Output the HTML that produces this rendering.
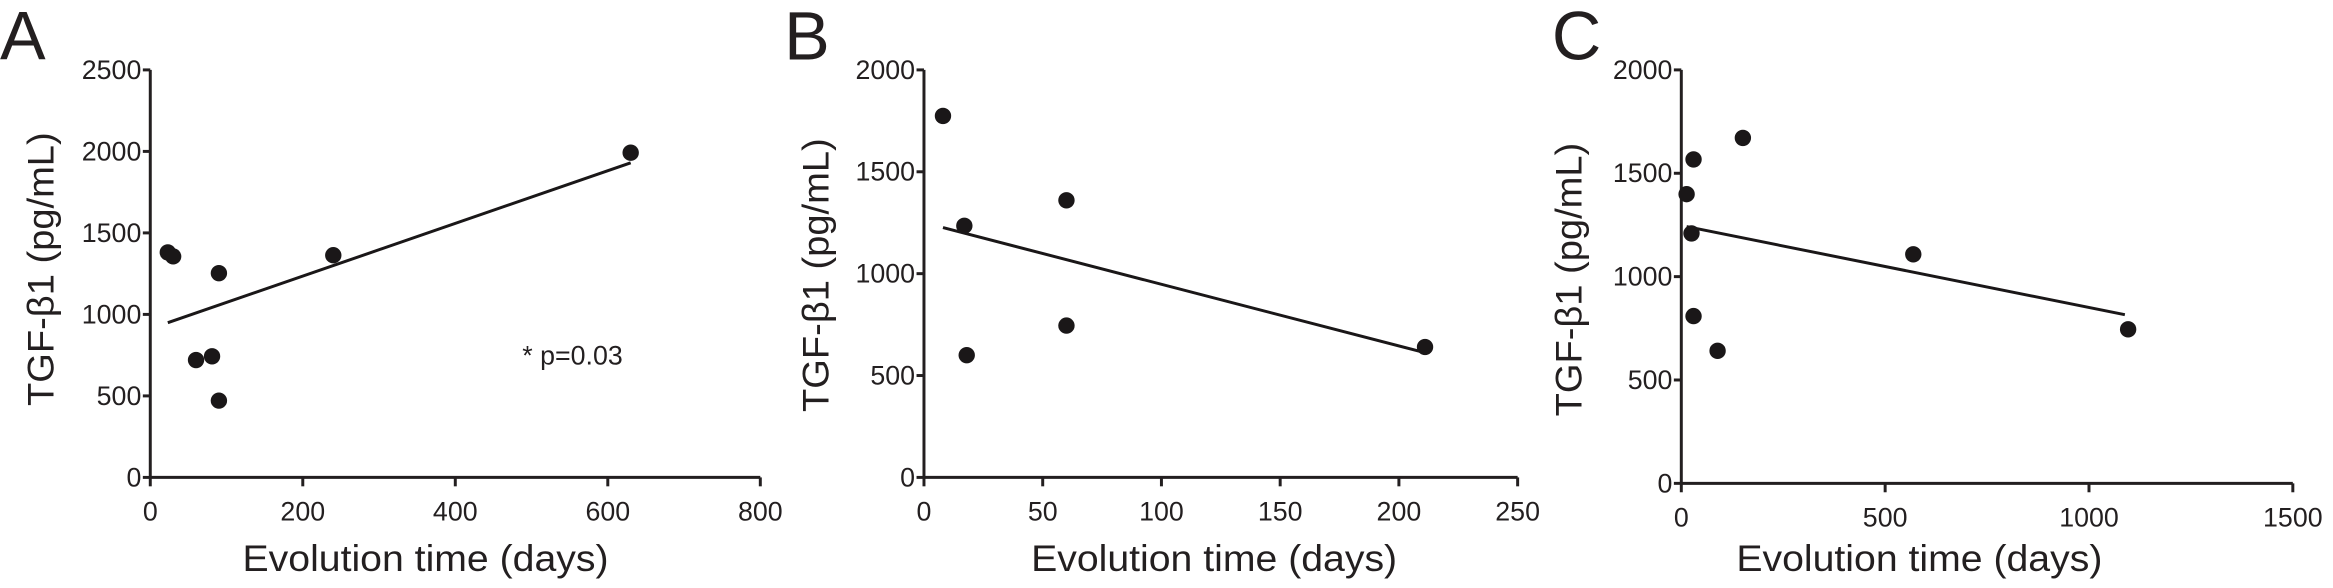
<!DOCTYPE html>
<html><head><meta charset="utf-8"><style>
body{margin:0;background:#fff;width:2333px;height:583px;overflow:hidden}
svg{font-family:"Liberation Sans",sans-serif}
</style></head><body>
<svg id="fig" width="2333" height="583" viewBox="0 0 1568 392" preserveAspectRatio="none" xmlns="http://www.w3.org/2000/svg"></svg>
<script>
// Panel A data
const aDays = [23, 30, 60, 81, 90, 90, 240, 630];
const aVals = [1380, 1356, 720, 743, 1253, 471, 1363, 1992];
const aFit = [[23, 949], [630, 1930]];
const aXTicks = [0, 200, 400, 600, 800];
const aYTicks = [0, 500, 1000, 1500, 2000, 2500];
// Panel B data
const bDays = [8, 17, 18, 60, 60, 211];
const bVals = [1774, 1235, 600, 1360, 745, 640];
const bFit = [[8, 1226], [211, 612]];
const bXTicks = [0, 50, 100, 150, 200, 250];
const bYTicks = [0, 500, 1000, 1500, 2000];
// Panel C data
const cDays = [13, 30, 151, 25, 30, 89, 569, 1096];
const cVals = [1399, 1567, 1671, 1209, 809, 641, 1108, 745];
const cFit = [[13, 1242], [1088, 816]];
const cXTicks = [0, 500, 1000, 1500];
const cYTicks = [0, 500, 1000, 1500, 2000];

const NS = "http://www.w3.org/2000/svg";
const svg = document.getElementById('fig');
function mk(tag, attrs, parent, text) {
  const e = document.createElementNS(NS, tag);
  for (const k in attrs) e.setAttribute(k, attrs[k]);
  if (text !== undefined) e.textContent = text;
  (parent || svg).appendChild(e);
  return e;
}
function panel(id, letter, lx, titleX, x0, x1, y0, y1, xTicks, yTicks, days, vals, fit, titleCx, titleCy) {
  const g = mk('g', {});
  
  
  const xmax = xTicks[xTicks.length - 1], ymax = yTicks[yTicks.length - 1];
  const X = v => x0 + (x1 - x0) * v / xmax;
  const Y = v => y0 - (y0 - y1) * v / ymax;
  const L = mk('text', {x: lx, y: 40, 'font-size': 46, fill: '#231f20'}, g, letter);
  
  
  const ya = mk('line', {x1: x0, y1: y0, x2: x0, y2: y1, stroke: '#231f20', 'stroke-width': 2}, g);
  
  
  const xa = mk('line', {x1: x0, y1: y0, x2: x1, y2: y0, stroke: '#231f20', 'stroke-width': 2}, g);
  
  
  yTicks.forEach(t => {
    mk('line', {x1: x0 - 5, y1: Y(t), x2: x0, y2: Y(t), stroke: '#231f20', 'stroke-width': 2}, g);
    const tl = mk('text', {x: x0 - 6, y: Y(t) + 6, 'font-size': 18, 'text-anchor': 'end', fill: '#231f20'}, g, t);
    
    
  });
  xTicks.forEach(t => {
    mk('line', {x1: X(t), y1: y0, x2: X(t), y2: y0 + 6, stroke: '#231f20', 'stroke-width': 2}, g);
    const tl = mk('text', {x: X(t), y: y0 + 29, 'font-size': 18, 'text-anchor': 'middle', fill: '#231f20'}, g, t);
    
    
  });
  const yt = mk('text', {x: titleX, y: titleCy, 'font-size': 25, 'text-anchor': 'middle', textLength: 184, lengthAdjust: 'spacingAndGlyphs', fill: '#231f20', transform: `rotate(-90 ${titleX} ${titleCy})`}, g, 'TGF-β1  (pg/mL)');
  
  
  const xt = mk('text', {x: titleCx, y: 384, 'font-size': 25, 'text-anchor': 'middle', textLength: 246, lengthAdjust: 'spacingAndGlyphs', fill: '#231f20'}, g, 'Evolution time  (days)');
  
  
  const fl = mk('line', {x1: X(fit[0][0]), y1: Y(fit[0][1]), x2: X(fit[1][0]), y2: Y(fit[1][1]), stroke: '#1a1718', 'stroke-width': 2}, g);
  
  
  days.forEach((d, i) => {
    const c = mk('circle', {cx: X(d), cy: Y(vals[i]), r: 5.5, fill: '#1a1718'}, g);
    
    
  });
  return g;
}
panel('a', 'A', 0, 36, 101, 511, 321, 47, aXTicks, aYTicks, aDays, aVals, aFit, 286, 181);
panel('b', 'B', 527, 557, 621, 1020, 321, 47, bXTicks, bYTicks, bDays, bVals, bFit, 816, 185);
panel('c', 'C', 1043, 1063, 1130, 1541, 325, 47, cXTicks, cYTicks, cDays, cVals, cFit, 1290, 188);
const p = mk('text', {x: 351, y: 245, 'font-size': 18, fill: '#231f20'}, svg, '* p=0.03');


</script>
</body></html>
